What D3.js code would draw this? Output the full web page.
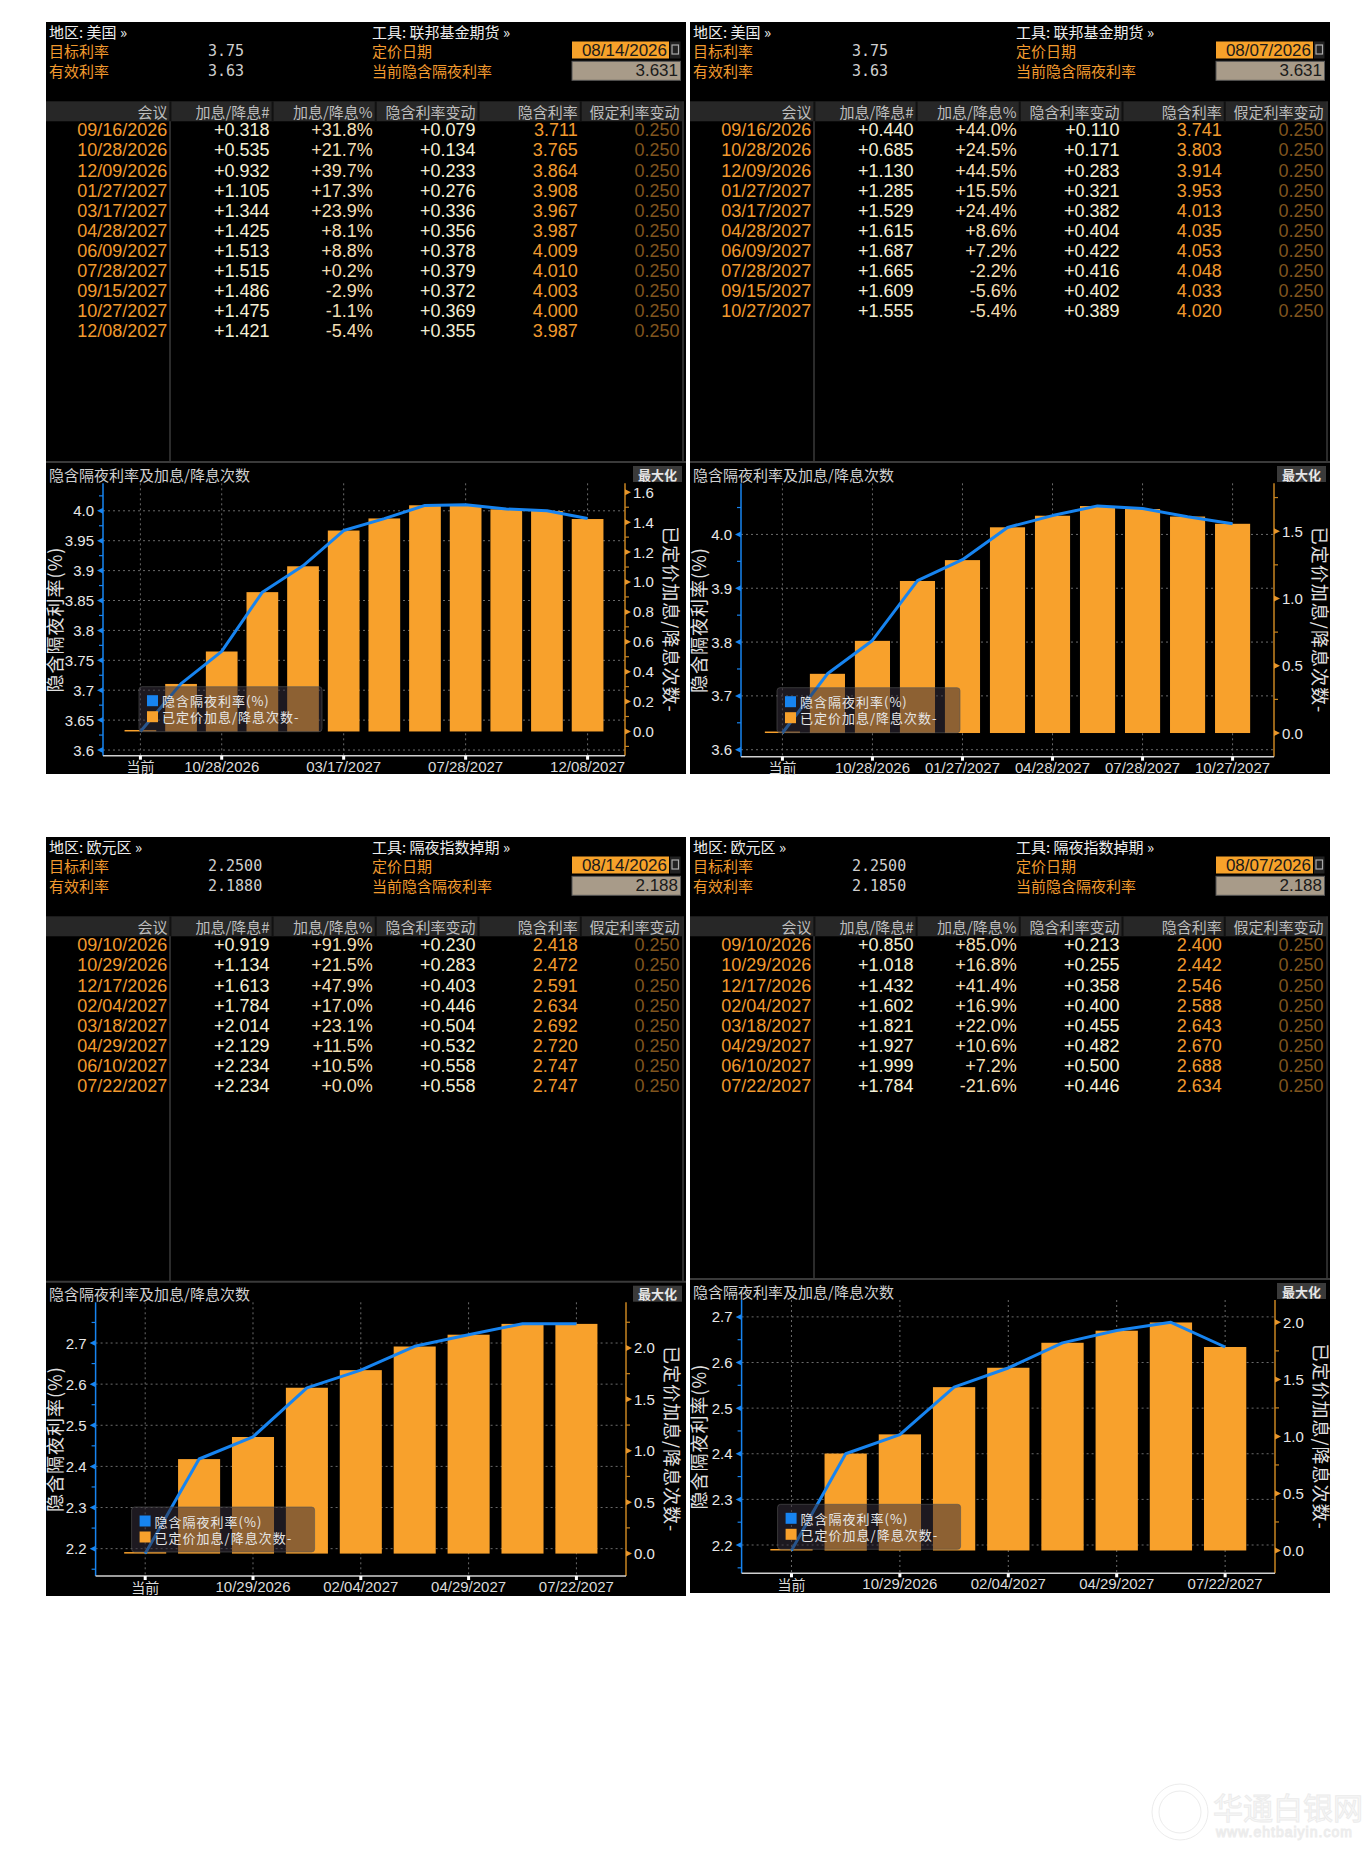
<!DOCTYPE html>
<html lang="zh">
<head>
<meta charset="UTF-8">
<title>隐含隔夜利率及加息/降息次数</title>
<script src="https://d3js.org/d3.v7.min.js"></script>
<style>
  body { margin: 0; background: #fff; }
  svg text { dominant-baseline: central; }
</style>
</head>
<body>
<div id="chart"></div>
<script>
// ---- data: US fed funds futures, priced 08/14/2026
const usMeetingsA = ["09/16/2026","10/28/2026","12/09/2026","01/27/2027","03/17/2027","04/28/2027","06/09/2027","07/28/2027","09/15/2027","10/27/2027","12/08/2027"];
const usHikesA    = [0.318, 0.535, 0.932, 1.105, 1.344, 1.425, 1.513, 1.515, 1.486, 1.475, 1.421];
const usPctA      = ["+31.8%","+21.7%","+39.7%","+17.3%","+23.9%","+8.1%","+8.8%","+0.2%","-2.9%","-1.1%","-5.4%"];
const usChgA      = [0.079, 0.134, 0.233, 0.276, 0.336, 0.356, 0.378, 0.379, 0.372, 0.369, 0.355];
const usImpliedA  = [3.711, 3.765, 3.864, 3.908, 3.967, 3.987, 4.009, 4.010, 4.003, 4.000, 3.987];
const usAssumedA  = [0.250, 0.250, 0.250, 0.250, 0.250, 0.250, 0.250, 0.250, 0.250, 0.250, 0.250];
const usTicksA    = ["当前","10/28/2026","03/17/2027","07/28/2027","12/08/2027"];

// ---- data: US fed funds futures, priced 08/07/2026
const usMeetingsB = ["09/16/2026","10/28/2026","12/09/2026","01/27/2027","03/17/2027","04/28/2027","06/09/2027","07/28/2027","09/15/2027","10/27/2027"];
const usHikesB    = [0.440, 0.685, 1.130, 1.285, 1.529, 1.615, 1.687, 1.665, 1.609, 1.555];
const usPctB      = ["+44.0%","+24.5%","+44.5%","+15.5%","+24.4%","+8.6%","+7.2%","-2.2%","-5.6%","-5.4%"];
const usChgB      = [0.110, 0.171, 0.283, 0.321, 0.382, 0.404, 0.422, 0.416, 0.402, 0.389];
const usImpliedB  = [3.741, 3.803, 3.914, 3.953, 4.013, 4.035, 4.053, 4.048, 4.033, 4.020];
const usAssumedB  = [0.250, 0.250, 0.250, 0.250, 0.250, 0.250, 0.250, 0.250, 0.250, 0.250];
const usTicksB    = ["当前","10/28/2026","01/27/2027","04/28/2027","07/28/2027","10/27/2027"];

// ---- data: euro area OIS, priced 08/14/2026
const euMeetingsA = ["09/10/2026","10/29/2026","12/17/2026","02/04/2027","03/18/2027","04/29/2027","06/10/2027","07/22/2027"];
const euHikesA    = [0.919, 1.134, 1.613, 1.784, 2.014, 2.129, 2.234, 2.234];
const euPctA      = ["+91.9%","+21.5%","+47.9%","+17.0%","+23.1%","+11.5%","+10.5%","+0.0%"];
const euChgA      = [0.230, 0.283, 0.403, 0.446, 0.504, 0.532, 0.558, 0.558];
const euImpliedA  = [2.418, 2.472, 2.591, 2.634, 2.692, 2.720, 2.747, 2.747];
const euAssumedA  = [0.250, 0.250, 0.250, 0.250, 0.250, 0.250, 0.250, 0.250];
const euTicksA    = ["当前","10/29/2026","02/04/2027","04/29/2027","07/22/2027"];

// ---- data: euro area OIS, priced 08/07/2026
const euMeetingsB = ["09/10/2026","10/29/2026","12/17/2026","02/04/2027","03/18/2027","04/29/2027","06/10/2027","07/22/2027"];
const euHikesB    = [0.850, 1.018, 1.432, 1.602, 1.821, 1.927, 1.999, 1.784];
const euPctB      = ["+85.0%","+16.8%","+41.4%","+16.9%","+22.0%","+10.6%","+7.2%","-21.6%"];
const euChgB      = [0.213, 0.255, 0.358, 0.400, 0.455, 0.482, 0.500, 0.446];
const euImpliedB  = [2.400, 2.442, 2.546, 2.588, 2.643, 2.670, 2.688, 2.634];
const euAssumedB  = [0.250, 0.250, 0.250, 0.250, 0.250, 0.250, 0.250, 0.250];
const euTicksB    = ["当前","10/29/2026","02/04/2027","04/29/2027","07/22/2027"];

const columns = ["会议", "加息/降息#", "加息/降息%", "隐含利率变动", "隐含利率", "假定利率变动"];

const panels = [
  { region: "美国", tool: "联邦基金期货", target: "3.75", effective: "3.63", date: "08/14/2026", current: 3.631,
    meetings: usMeetingsA, hikes: usHikesA, pct: usPctA, chg: usChgA, implied: usImpliedA, assumed: usAssumedA, ticks: usTicksA,
    x0: 46, y0: 22, w: 640, h: 752, sep: 440, pl: 57, pr: 579, pt: 461.3, pb: 733.7, dom: [3.5905, 4.046], major: 0.05, rMajor: 0.2 },
  { region: "美国", tool: "联邦基金期货", target: "3.75", effective: "3.63", date: "08/07/2026", current: 3.631,
    meetings: usMeetingsB, hikes: usHikesB, pct: usPctB, chg: usChgB, implied: usImpliedB, assumed: usAssumedB, ticks: usTicksB,
    x0: 690, y0: 22, w: 640, h: 752, sep: 440, pl: 51, pr: 584, pt: 461.3, pb: 734.7, dom: [3.587, 4.095], major: 0.1, rMajor: 0.5 },
  { region: "欧元区", tool: "隔夜指数掉期", target: "2.2500", effective: "2.1880", date: "08/14/2026", current: 2.188,
    meetings: euMeetingsA, hikes: euHikesA, pct: euPctA, chg: euChgA, implied: euImpliedA, assumed: euAssumedA, ticks: euTicksA,
    x0: 46, y0: 837, w: 640, h: 759, sep: 444.7, pl: 49.6, pr: 580, pt: 465.3, pb: 739, dom: [2.1335, 2.799], major: 0.1, rMajor: 0.5 },
  { region: "欧元区", tool: "隔夜指数掉期", target: "2.2500", effective: "2.1850", date: "08/07/2026", current: 2.188,
    meetings: euMeetingsB, hikes: euHikesB, pct: euPctB, chg: euChgB, implied: euImpliedB, assumed: euAssumedB, ticks: euTicksB,
    x0: 690, y0: 837, w: 640, h: 756, sep: 442, pl: 51.6, pr: 585, pt: 463, pb: 736.3, dom: [2.138, 2.737], major: 0.1, rMajor: 0.5 }
];

const NUM = "'Liberation Sans Narrow', 'Liberation Sans', Arial, sans-serif";
const CJK = "'Noto Sans CJK SC', 'Noto Sans', sans-serif";
const MONO = "'DejaVu Sans Mono', 'Liberation Mono', monospace";
const ORANGE = "#f29a2e", BAR = "#f8a12c", BLUE = "#1784f0";
const CREAM = "#f4f0d6", PCT = "#f3dfb4", BROWN = "#80551e";

const svg = d3.select("#chart").append("svg")
  .attr("width", 1370).attr("height", 1860)
  .style("background", "#fff");

function stepTicks(lo, hi, step) {
  const a = Math.ceil(lo / step - 1e-6), b = Math.floor(hi / step + 1e-6);
  return d3.range(a, b + 1).map(k => +(k * step).toFixed(4));
}
function leftFmt(v) {
  const s = v.toFixed(2);
  return s.endsWith("0") ? v.toFixed(1) : s;
}
const plus = v => (v >= 0 ? "+" : "") + v.toFixed(3);

function drawPanel(p) {
  const g = svg.append("g").attr("transform", `translate(${p.x0},${p.y0})`);
  g.append("rect").attr("width", p.w).attr("height", p.h).attr("fill", "#000");

  // ---- top info block
  g.append("text").attr("x", 3).attr("y", 9.5).attr("fill", "#eee")
    .style("font", `15px ${CJK}`).text(`地区: ${p.region} »`);
  g.append("text").attr("x", 3).attr("y", 28.5).attr("fill", ORANGE)
    .style("font", `15px ${CJK}`).text("目标利率");
  g.append("text").attr("x", 3).attr("y", 48.5).attr("fill", ORANGE)
    .style("font", `15px ${CJK}`).text("有效利率");
  g.append("text").attr("x", 162).attr("y", 28.5).attr("fill", "#cfcfcf")
    .style("font", `15px ${MONO}`).text(p.target);
  g.append("text").attr("x", 162).attr("y", 48.5).attr("fill", "#cfcfcf")
    .style("font", `15px ${MONO}`).text(p.effective);
  g.append("text").attr("x", 326).attr("y", 9.5).attr("fill", "#eee")
    .style("font", `15px ${CJK}`).text(`工具: ${p.tool} »`);
  g.append("text").attr("x", 326).attr("y", 28.5).attr("fill", ORANGE)
    .style("font", `15px ${CJK}`).text("定价日期");
  g.append("text").attr("x", 326).attr("y", 48.5).attr("fill", ORANGE)
    .style("font", `15px ${CJK}`).text("当前隐含隔夜利率");

  g.append("rect").attr("x", 526).attr("y", 19.5).attr("width", 97).attr("height", 17).attr("fill", "#f7a22a");
  g.append("text").attr("x", 621).attr("y", 28.5).attr("text-anchor", "end").attr("fill", "#1a1a1a")
    .style("font", `17px ${NUM}`).text(p.date);
  g.append("rect").attr("x", 624).attr("y", 19.5).attr("width", 10.5).attr("height", 17).attr("fill", "#222");
  g.append("rect").attr("x", 626).attr("y", 23).attr("width", 6.5).attr("height", 9)
    .attr("fill", "none").attr("stroke", "#aaa").attr("stroke-width", 1.2);
  g.append("rect").attr("x", 526).attr("y", 39.3).attr("width", 108.5).attr("height", 19)
    .attr("fill", "#a89b89").attr("stroke", "#555").attr("stroke-width", 1);
  g.append("text").attr("x", 632).attr("y", 48.8).attr("text-anchor", "end").attr("fill", "#1a1a1a")
    .style("font", `17px ${NUM}`).text(p.current.toFixed(3));

  // ---- meeting table
  const colRight = [122.4, 224.6, 327.7, 430.5, 532.7, 634.6];
  g.append("rect").attr("x", 0).attr("y", 79.3).attr("width", 636).attr("height", 20).attr("fill", "#272727");
  colRight.slice(0, 5).forEach(cx => {
    g.append("rect").attr("x", cx + 1).attr("y", 79.3).attr("width", 2).attr("height", 20).attr("fill", "#111");
  });
  columns.forEach((c, i) => {
    g.append("text").attr("x", colRight[i] - 1).attr("y", 89.3).attr("text-anchor", "end")
      .attr("fill", "#bdbdbd").style("font", `15px ${CJK}`).text(c);
  });
  g.append("line").attr("x1", 124).attr("x2", 124).attr("y1", 99.3).attr("y2", p.sep)
    .attr("stroke", "#3a3a3a").attr("stroke-width", 1.5);
  g.append("line").attr("x1", 637).attr("x2", 637).attr("y1", 79.3).attr("y2", p.sep)
    .attr("stroke", "#3a3a3a").attr("stroke-width", 1.5);

  const rowY = i => 108.3 + 20.1 * i;
  const cells = [
    { vals: p.meetings, fmt: d => d, color: ORANGE },
    { vals: p.hikes, fmt: plus, color: CREAM },
    { vals: p.pct, fmt: d => d, color: PCT },
    { vals: p.chg, fmt: plus, color: CREAM },
    { vals: p.implied, fmt: d => d.toFixed(3), color: ORANGE },
    { vals: p.assumed, fmt: d => d.toFixed(3), color: BROWN }
  ];
  cells.forEach((col, ci) => {
    g.selectAll(null).data(col.vals).join("text")
      .attr("x", colRight[ci] - 1).attr("y", (d, i) => rowY(i))
      .attr("text-anchor", "end").attr("fill", col.color)
      .style("font", `18px ${NUM}`).text(col.fmt);
  });

  // ---- chart header
  g.append("line").attr("x1", 0).attr("x2", p.w).attr("y1", p.sep).attr("y2", p.sep)
    .attr("stroke", "#3a3a3a").attr("stroke-width", 2);
  g.append("text").attr("x", 3).attr("y", p.sep + 12).attr("fill", "#cfcfcf")
    .style("font", `15px ${CJK}`).text("隐含隔夜利率及加息/降息次数");
  g.append("rect").attr("x", 587).attr("y", p.sep + 4).attr("width", 49).attr("height", 16).attr("fill", "#3a3a3a");
  g.append("text").attr("x", 611.5).attr("y", p.sep + 12).attr("text-anchor", "middle").attr("fill", "#e6e6e6")
    .style("font", `bold 13px ${CJK}`).text("最大化");

  // ---- scales
  const cats = ["当前"].concat(p.meetings);
  const bars = [0].concat(p.hikes);
  const line = [p.current].concat(p.implied);
  const per = p.assumed[0];
  const x = d3.scalePoint().domain(cats).range([p.pl, p.pr]).padding(0.92);
  const yL = d3.scaleLinear().domain(p.dom).range([p.pb, p.pt]);
  const yR = d3.scaleLinear().domain(p.dom.map(v => (v - p.current) / per)).range([p.pb, p.pt]);
  const bw = x.step() * 0.78;

  // grid
  const lMajor = stepTicks(p.dom[0], p.dom[1], p.major);
  const lMinor = stepTicks(p.dom[0], p.dom[1], p.major / 2).filter(v => !lMajor.some(m => Math.abs(m - v) < 1e-6));
  const rd = yR.domain();
  const rMajor = stepTicks(rd[0], rd[1], p.rMajor);
  const rMinor = stepTicks(rd[0], rd[1], p.rMajor / 2).filter(v => !rMajor.some(m => Math.abs(m - v) < 1e-6));

  g.selectAll(null).data(lMajor).join("line")
    .attr("x1", p.pl).attr("x2", p.pr).attr("y1", d => yL(d)).attr("y2", d => yL(d))
    .attr("stroke", "#6a6a6a").attr("stroke-width", 1).attr("stroke-dasharray", "2,3");
  g.selectAll(null).data(p.ticks).join("line")
    .attr("x1", d => x(d)).attr("x2", d => x(d)).attr("y1", p.pt).attr("y2", p.pb)
    .attr("stroke", "#6a6a6a").attr("stroke-width", 1).attr("stroke-dasharray", "2,3");

  // bars
  g.selectAll(null).data(bars).join("rect")
    .attr("x", (d, i) => x(cats[i]) - bw / 2)
    .attr("width", bw)
    .attr("y", d => Math.min(yR(d), yR(0) - 1.5))
    .attr("height", d => Math.max(yR(0) - yR(d), 1.5))
    .attr("fill", BAR);

  // implied rate line
  g.append("path").datum(line)
    .attr("d", d3.line().x((d, i) => x(cats[i])).y(d => yL(d)))
    .attr("fill", "none").attr("stroke", BLUE).attr("stroke-width", 3)
    .attr("stroke-linejoin", "round");

  // left axis
  g.append("line").attr("x1", p.pl).attr("x2", p.pl).attr("y1", p.pt).attr("y2", p.pb)
    .attr("stroke", BLUE).attr("stroke-width", 1.5);
  g.selectAll(null).data(lMinor).join("line")
    .attr("x1", p.pl - 4).attr("x2", p.pl).attr("y1", d => yL(d)).attr("y2", d => yL(d))
    .attr("stroke", BLUE).attr("stroke-width", 1.2);
  g.selectAll(null).data(lMajor).join("path")
    .attr("d", d => `M${p.pl},${yL(d) - 3}L${p.pl - 6},${yL(d)}L${p.pl},${yL(d) + 3}Z`)
    .attr("fill", BLUE);
  g.selectAll(null).data(lMajor).join("text")
    .attr("x", p.pl - 9).attr("y", d => yL(d)).attr("text-anchor", "end")
    .attr("fill", "#e8e8e8").style("font", `15px ${NUM}`).text(leftFmt);

  // right axis
  g.append("line").attr("x1", p.pr).attr("x2", p.pr).attr("y1", p.pt).attr("y2", p.pb)
    .attr("stroke", "#c98520").attr("stroke-width", 1.5);
  g.selectAll(null).data(rMinor).join("line")
    .attr("x1", p.pr).attr("x2", p.pr + 4).attr("y1", d => yR(d)).attr("y2", d => yR(d))
    .attr("stroke", "#c98520").attr("stroke-width", 1.2);
  g.selectAll(null).data(rMajor).join("path")
    .attr("d", d => `M${p.pr},${yR(d) - 3}L${p.pr + 6},${yR(d)}L${p.pr},${yR(d) + 3}Z`)
    .attr("fill", "#e8962a");
  g.selectAll(null).data(rMajor).join("text")
    .attr("x", p.pr + 8).attr("y", d => yR(d))
    .attr("fill", "#e8e8e8").style("font", `15px ${NUM}`).text(d => d.toFixed(1));

  // bottom axis
  g.append("line").attr("x1", p.pl).attr("x2", p.pr).attr("y1", p.pb).attr("y2", p.pb)
    .attr("stroke", "#d0d0d0").attr("stroke-width", 1.5);
  g.selectAll(null).data(p.ticks).join("rect")
    .attr("x", d => x(d) - 1.5).attr("y", p.pb).attr("width", 3).attr("height", 4).attr("fill", "#fff");
  g.selectAll(null).data(p.ticks).join("text")
    .attr("x", d => x(d)).attr("y", p.pb + 10.5).attr("text-anchor", "middle")
    .attr("fill", "#dcdcdc").style("font", d => d === "当前" ? `14px ${CJK}` : `15px ${NUM}`).text(d => d);

  // axis titles
  const cy = (p.pt + p.pb) / 2;
  g.append("text").attr("transform", `translate(8,${cy}) rotate(-90)`).attr("text-anchor", "middle")
    .attr("fill", "#e0e0e0").style("font", `18px ${CJK}`).style("letter-spacing", "1px")
    .text("隐含隔夜利率(%)");
  g.append("text").attr("transform", `translate(${p.pr + 47},${cy}) rotate(90)`).attr("text-anchor", "middle")
    .attr("fill", "#e0e0e0").style("font", `18px ${CJK}`).style("letter-spacing", "1px")
    .text("已定价加息/降息次数-");

  // legend
  const lg = g.append("g").attr("transform", `translate(${p.pl + 36},${p.pb - 69})`);
  lg.append("rect").attr("width", 183).attr("height", 45).attr("rx", 3)
    .attr("fill", "rgb(52,46,58)").attr("fill-opacity", 0.55).attr("stroke", "#555").attr("stroke-opacity", 0.6);
  [["隐含隔夜利率(%)", BLUE], ["已定价加息/降息次数-", BAR]].forEach((it, i) => {
    lg.append("rect").attr("x", 8).attr("y", 14 + i * 16 - 5.5).attr("width", 11).attr("height", 11).attr("fill", it[1]);
    lg.append("text").attr("x", 23).attr("y", 14 + i * 16).attr("fill", "#e6e6e6")
      .style("font", `13px ${CJK}`).style("letter-spacing", "1px").text(it[0]);
  });
}

panels.forEach(drawPanel);

// faint site watermark, bottom right
const wm = svg.append("g").attr("fill", "none").attr("stroke", "#ececec").attr("stroke-width", 1);
wm.append("circle").attr("cx", 1180).attr("cy", 1812).attr("r", 28);
wm.append("circle").attr("cx", 1180).attr("cy", 1812).attr("r", 21);
wm.append("text").attr("x", 1213).attr("y", 1806).attr("fill", "#f8f8f8")
  .style("font", `30px ${CJK}`).text("华通白银网");
wm.append("text").attr("x", 1216).attr("y", 1832).attr("fill", "#f8f8f8")
  .style("font", `14px ${NUM}`).style("letter-spacing", "1px").text("www.ehtbaiyin.com");
</script>
</body>
</html>
